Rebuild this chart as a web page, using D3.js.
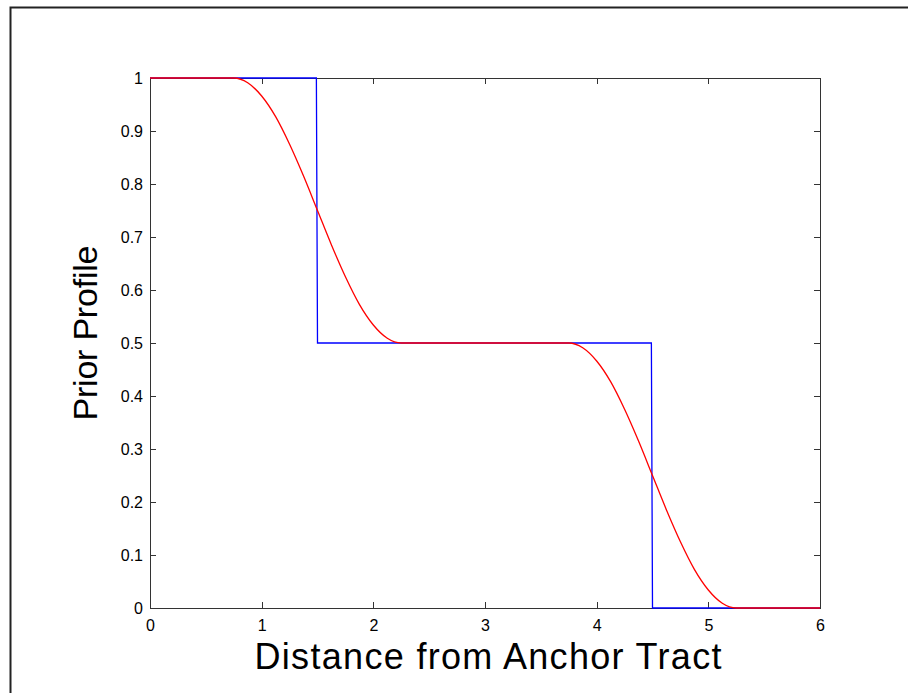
<!DOCTYPE html>
<html>
<head>
<meta charset="utf-8">
<script src="https://cdn.jsdelivr.net/npm/d3@7"></script>
<style>
  body { margin: 0; background: #fff; }
  svg { display: block; font-family: "Liberation Sans", Arial, sans-serif; }
</style>
</head>
<body>
<div id="chart"></div>
<script>
// Step profile (blue), sampled like the original plot
const stepX = [0, 1.49, 1.5, 4.49, 4.5, 6];
const stepY = [1, 1, 0.5, 0.5, 0, 0];

// Smooth profile (red)
const smoothX = [0, 0.75, 0.875, 1.0, 1.125, 1.25, 1.375, 1.5, 1.625, 1.75, 1.875, 2.0, 2.125, 2.25,
                 3.75, 3.875, 4.0, 4.125, 4.25, 4.375, 4.5, 4.625, 4.75, 4.875, 5.0, 5.125, 5.25, 6];
const smoothY = [1, 1, 0.991, 0.966, 0.927, 0.875, 0.815, 0.75, 0.685, 0.625, 0.573, 0.534, 0.509, 0.5,
                 0.5, 0.491, 0.466, 0.427, 0.375, 0.315, 0.25, 0.185, 0.125, 0.073, 0.034, 0.009, 0, 0];

const xTicks = [0, 1, 2, 3, 4, 5, 6];
const yTicks = [0, 0.1, 0.2, 0.3, 0.4, 0.5, 0.6, 0.7, 0.8, 0.9, 1];

const W = 908, H = 693;
const box = { left: 150, right: 820, top: 78, bottom: 608 };
const tickLen = 6;

const svg = d3.select('#chart').append('svg')
              .attr('width', W)
              .attr('height', H);

// outer figure frame (right and bottom edges fall outside the picture)
svg.append('rect')
   .attr('x', 10.5).attr('y', 7.5)
   .attr('width', W + 20).attr('height', H + 20)
   .attr('fill', 'none')
   .attr('stroke', '#222')
   .attr('stroke-width', 2);

const x = d3.scaleLinear().domain([0, 6]).range([box.left, box.right]);
const y = d3.scaleLinear().domain([0, 1]).range([box.bottom, box.top]);

const axisColor = '#333';
const tickFont = 16;

// axes with inward ticks on all four sides
const fmt = d => d3.format('~g')(d);
svg.append('g')
   .attr('transform', 'translate(0,' + box.bottom + ')')
   .call(d3.axisBottom(x).tickValues(xTicks).tickSizeInner(-tickLen).tickSizeOuter(0).tickPadding(12).tickFormat(fmt))
   .call(g => g.selectAll('text').attr('font-size', tickFont).attr('fill', '#000'));
svg.append('g')
   .attr('transform', 'translate(0,' + box.top + ')')
   .call(d3.axisTop(x).tickValues(xTicks).tickSizeInner(-tickLen).tickSizeOuter(0).tickFormat(''));
svg.append('g')
   .attr('transform', 'translate(' + box.left + ',0)')
   .call(d3.axisLeft(y).tickValues(yTicks).tickSizeInner(-tickLen).tickSizeOuter(0).tickPadding(7).tickFormat(fmt))
   .call(g => g.selectAll('text').attr('font-size', tickFont).attr('fill', '#000'));
svg.append('g')
   .attr('transform', 'translate(' + box.right + ',0)')
   .call(d3.axisRight(y).tickValues(yTicks).tickSizeInner(-tickLen).tickSizeOuter(0).tickFormat(''));

svg.selectAll('.domain, .tick line')
   .attr('stroke', axisColor)
   .attr('shape-rendering', 'crispEdges');

// data lines
const line = d3.line().x(d => x(d[0])).y(d => y(d[1]));

svg.append('path')
   .datum(d3.zip(stepX, stepY))
   .attr('d', line)
   .attr('fill', 'none')
   .attr('stroke', '#0000ff')
   .attr('stroke-width', 1.3);

svg.append('path')
   .datum(d3.zip(smoothX, smoothY))
   .attr('d', line.curve(d3.curveMonotoneX))
   .attr('fill', 'none')
   .attr('stroke', '#ff0000')
   .attr('stroke-width', 1.3);

// axis titles
svg.append('text')
   .attr('x', 488)
   .attr('y', 669)
   .attr('text-anchor', 'middle')
   .attr('font-size', 36)
   .attr('textLength', 467)
   .attr('lengthAdjust', 'spacing')
   .text('Distance from Anchor Tract');

svg.append('text')
   .attr('transform', 'translate(97,333) rotate(-90)')
   .attr('text-anchor', 'middle')
   .attr('font-size', 34)
   .attr('textLength', 175)
   .attr('lengthAdjust', 'spacing')
   .text('Prior Profile');
</script>
</body>
</html>
